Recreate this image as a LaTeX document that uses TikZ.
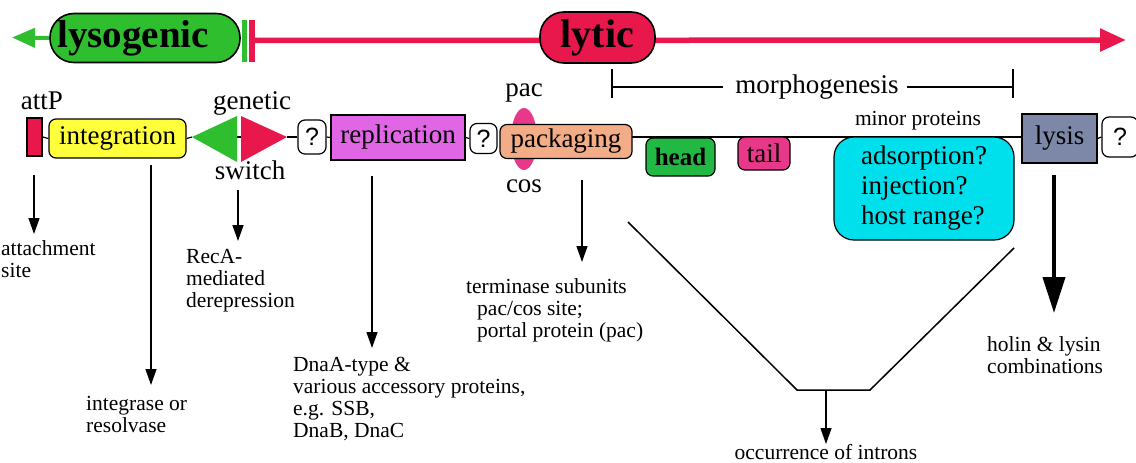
\documentclass[tikz,border=0pt]{standalone}
\usepackage{fontspec}
\setmainfont{Liberation Serif}
\newfontfamily\qfont{Liberation Sans}
\usetikzlibrary{arrows.meta,shapes.geometric}
\definecolor{lgreen}{HTML}{2EBE2E}
\definecolor{lred}{HTML}{E8174C}
\definecolor{lyellow}{HTML}{FFFF3C}
\definecolor{lmag}{HTML}{E066E6}
\definecolor{lpink}{HTML}{E8388A}
\definecolor{lpeach}{HTML}{F2AC86}
\definecolor{lhead}{HTML}{22B844}
\definecolor{lcyan}{HTML}{00E0EC}
\definecolor{lslate}{HTML}{7D87A8}
\tikzset{
  big/.style={font=\fontsize{27}{30}\selectfont},
  small/.style={font=\fontsize{21.5}{22}\selectfont, align=left, inner sep=0pt},
  gbox/.style={draw, line width=1.2pt, inner sep=0pt, big},
  qbox/.style={draw, line width=1.2pt, inner sep=0pt, rounded corners=7pt, fill=white,
     font=\qfont\fontsize{25}{28}\selectfont},
  arr/.style={line width=1.3pt, -{Triangle[width=11pt,length=16pt]}},
  thin/.style={line width=1.2pt},
  pill/.style={draw, line width=1.6pt, inner sep=0pt, rounded corners=24pt,
     font=\bfseries\fontsize{39}{40}\selectfont}
}
\begin{document}
\begin{tikzpicture}[x=1pt,y=-1pt]
\useasboundingbox (0,0) rectangle (1136,463);
% ---------- top row ----------
\coordinate (gtip) at (12,37.5);
\coordinate (rtip) at (1126,40);
\node[fill=lgreen, minimum width=5.5pt, minimum height=42pt, inner sep=0pt] (gbar) at (244.5,40.5) {};
\node[fill=lred, minimum width=6.5pt, minimum height=42pt, inner sep=0pt] (rbar) at (252,40.5) {};
\draw[lred, line width=5.5pt, -{Triangle[width=22pt,length=26pt]}] (rbar.center) -- (rtip);
\node[pill, fill=lgreen, minimum width=190pt, minimum height=49pt] (lyso) at (145,38) {lysogenic\hspace*{24pt}};
\draw[lgreen, line width=4pt, -{Triangle[width=19pt,length=23pt]}] (lyso.west) -- (gtip);
\node[pill, fill=lred, minimum width=115pt, minimum height=51pt, font=\bfseries\fontsize{40}{40}\selectfont] (lytic) at (597.5,37.5) {lytic};
% ---------- morphogenesis bracket ----------
\node[big, inner sep=0pt] (morph) at (817,87) {morphogenesis};
\coordinate (mL) at (612,87);
\coordinate (mR) at (1013,87);
\draw[line width=2.5pt] (mL) -- ([xshift=-12pt]morph.west);
\draw[line width=2.5pt] ([xshift=8pt]morph.east) -- (mR);
\draw[line width=2.5pt] (612,69) -- (612,98);
\draw[line width=2.5pt] (1013,69) -- (1013,98);
% ---------- main row ----------
\draw[thin] (566,137) -- (1060,137);
\node[gbox, fill=lred, minimum width=15pt, minimum height=38pt] (attP) at (34.5,137) {};
\node[big, inner sep=0pt] (attPl) at (42,101) {attP};
\node[gbox, fill=lyellow, rounded corners=7pt, minimum width=137pt, minimum height=39pt] (integ) at (117.5,138.5) {integration};
\draw[thin] (attP.east) -- (integ.west);
% genetic switch
\coordinate (gsL) at (192,137);
\coordinate (gsR) at (287,137);
\fill[lgreen] (gsL) -- (237,116) -- (237,162) -- cycle;
\fill[lred] (gsR) -- (241,116) -- (241,162) -- cycle;
\draw[thin] (237,137) -- (241,137);
\node[big, inner sep=0pt] (gen) at (252,103) {genetic};
\node[big, inner sep=0pt] (swi) at (250,170) {switch};
\draw[thin] (integ.east) -- (gsL);
\node[qbox, minimum width=28pt, minimum height=34pt] (q1) at (312,137) {?};
\draw[thin] (gsR) -- (q1.west);
\node[gbox, fill=lmag, minimum width=134pt, minimum height=45pt] (repl) at (398,137.5) {replication};
\draw[thin] (q1.east) -- (repl.west);
\node[qbox, minimum width=27pt, minimum height=30pt] (q2) at (483.5,138.5) {?};
\draw[thin] (repl.east) -- (q2.west);
\node[ellipse, fill=lpink, minimum width=26pt, minimum height=62pt, inner sep=0pt] (pacE) at (524,139) {};
\node[big, inner sep=0pt] (pacl) at (524,93) {pac};
\node[big, inner sep=0pt] (cosl) at (524,186) {cos};
\node[gbox, fill=lpeach, rounded corners=7pt, minimum width=132pt, minimum height=34pt] (pack) at (566,141.5) {packaging};
\node[gbox, fill=lhead, rounded corners=7pt, minimum width=69pt, minimum height=38pt, font=\bfseries\fontsize{25}{28}\selectfont] (head) at (680.5,157) {head};
\node[gbox, fill=lpink, rounded corners=7pt, minimum width=52pt, minimum height=33pt] (tail) at (764,153.5) {tail};
\node[small] (minor) at (918,121) {minor proteins};
\node[gbox, fill=lcyan, rounded corners=20pt, minimum width=180pt, minimum height=103pt, align=left] (cyan) at (924,188.5)
  {adsorption?\\injection?\\host range?};
\node[gbox, fill=lslate, minimum width=75pt, minimum height=49pt] (lysis) at (1059.5,138.5) {lysis};
\node[qbox, minimum width=36pt, minimum height=40pt] (q3) at (1120,137) {?};
\draw[thin] (lysis.east) -- (q3.west);
% ---------- downward arrows & texts ----------
\node[small, anchor=north west] (tatt) at (1,240) {attachment\\site};
\draw[arr] (34,175) -- (34,234);
\node[small, anchor=north west] (tint) at (86,396) {integrase or\\ resolvase};
\draw[arr] (151,165) -- (151,385);
\node[small, anchor=north west] (trec) at (186,249) {RecA-\\mediated\\derepression};
\draw[arr] (238,190) -- (238,241);
\node[small, anchor=north west] (trep) at (293,357) {DnaA-type \&\\various accessory proteins,\\e.g. SSB,\\DnaB, DnaC};
\draw[arr] (372,176) -- (372,348);
\node[small, anchor=north west] (tter) at (466,278) {terminase subunits\\\hspace*{11pt}pac/cos site;\\\hspace*{11pt}portal protein (pac)};
\draw[arr] (582,180) -- (582,262);
% funnel
\coordinate (fA) at (628,222);
\coordinate (fB) at (797,390);
\coordinate (fC) at (870,390);
\coordinate (fD) at (1014,248);
\draw[line width=1.5pt] (fA) -- (fB) -- (fC) -- (fD);
\node[small, anchor=north] (tocc) at (826,444) {occurrence of introns};
\draw[arr] (826,390) -- (tocc.north);
% lysis thick arrow
\node[small, anchor=north west] (thol) at (987,336) {holin \& lysin\\combinations};
\draw[line width=4pt, -{Triangle[width=22pt,length=36pt]}] (1054,175) -- (1054,313);
\end{tikzpicture}
\end{document}
